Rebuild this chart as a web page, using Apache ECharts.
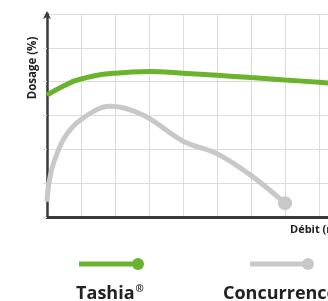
<!DOCTYPE html>
<html><head><meta charset="utf-8">
<script src="https://cdn.jsdelivr.net/npm/echarts@6/dist/echarts.min.js"></script>
<style>html,body{margin:0;padding:0;background:#fff}#c{width:328px;height:301px}</style>
</head><body><div id="c"></div>
<script>
var seriesNames = ['Tashia', 'Concurrence'];
var tashiaX = [0, 0.5, 1, 2, 3, 4, 5, 6, 7, 8, 9];
var tashiaY = [3.6, 3.88, 4.08, 4.25, 4.30, 4.25, 4.19, 4.12, 4.05, 3.98, 3.9];
var concX = [0, 0.05, 0.18, 0.5, 1, 1.85, 2.85, 4, 5, 6, 7];
var concY = [0.45, 0.95, 1.55, 2.32, 2.88, 3.27, 3.0, 2.24, 1.87, 1.23, 0.41];
var yTicks = [0, 1, 2, 3, 4, 5, 6];
var xName = 'Débit (m³/h)';
var yName = 'Dosage (%)';

function pairs(xs, ys, lastSymbol) {
  return xs.map(function (x, i) {
    var d = { value: [x, ys[i]] };
    if (lastSymbol && i === xs.length - 1) { d.symbol = 'circle'; d.symbolSize = 14; }
    return d;
  });
}
var font = '"Open Sans", sans-serif';
var chart = echarts.init(document.getElementById('c'));
chart.setOption({
  animation: false,
  grid: { left: 47, top: 14, width: 306, height: 203, outerBoundsMode: 'none', containLabel: false },
  xAxis: {
    type: 'value', min: 0, max: 9, interval: 1,
    axisLine: { lineStyle: { color: '#3a3a3a', width: 3 } },
    axisTick: { show: false }, axisLabel: { show: false },
    splitLine: { show: true, lineStyle: { color: '#dcdcdc', width: 1 } }
  },
  yAxis: {
    type: 'value', min: yTicks[0], max: yTicks[yTicks.length - 1], interval: 1,
    axisLine: { show: true, symbol: ['none', 'arrow'], symbolSize: [6, 8], symbolOffset: [0, 3], lineStyle: { color: '#3a3a3a', width: 2.5 } },
    axisTick: { show: true, length: 4, lineStyle: { color: '#dcdcdc' } },
    axisLabel: { show: false },
    splitLine: { show: true, lineStyle: { color: '#dcdcdc', width: 1 } }
  },
  series: [
    { name: seriesNames[1], type: 'line', smooth: 0.35, symbol: 'none',
      data: pairs(concX, concY, true), lineStyle: { color: '#c8c8c8', width: 5 }, itemStyle: { color: '#c8c8c8' }, z: 3 },
    { name: seriesNames[0], type: 'line', smooth: 0.5, symbol: 'none',
      data: pairs(tashiaX, tashiaY, false), lineStyle: { color: '#6ab42d', width: 5 }, itemStyle: { color: '#6ab42d' }, z: 4 }
  ],
  graphic: [
    { type: 'text', x: 33, y: 68, rotation: Math.PI / 2, style: { text: yName, font: 'bold 11.5px ' + font, fill: '#222', align: 'center', verticalAlign: 'middle' } },
    { type: 'text', x: 290, y: 230, style: { text: xName, font: 'bold 11px ' + font, fill: '#222', align: 'left', verticalAlign: 'middle' } },
    { type: 'line', shape: { x1: 79, y1: 264, x2: 136, y2: 264 }, style: { stroke: '#6ab42d', lineWidth: 5 } },
    { type: 'circle', shape: { cx: 138, cy: 264, r: 6 }, style: { fill: '#6ab42d' } },
    { type: 'line', shape: { x1: 250, y1: 264, x2: 306, y2: 264 }, style: { stroke: '#c8c8c8', lineWidth: 5 } },
    { type: 'circle', shape: { cx: 308, cy: 264, r: 6 }, style: { fill: '#c8c8c8' } },
    { type: 'text', x: 110, y: 294, style: { text: seriesNames[0] + '{s|®}', font: 'bold 18px ' + font, fill: '#222', align: 'center', verticalAlign: 'middle',
      rich: { s: { font: 'bold 10px ' + font, fill: '#222', verticalAlign: 'top', padding: [0, 0, 9, 1] } } } },
    { type: 'text', x: 223, y: 294, style: { text: seriesNames[1], font: 'bold 18px ' + font, fill: '#222', align: 'left', verticalAlign: 'middle' } }
  ]
});
</script></body></html>
